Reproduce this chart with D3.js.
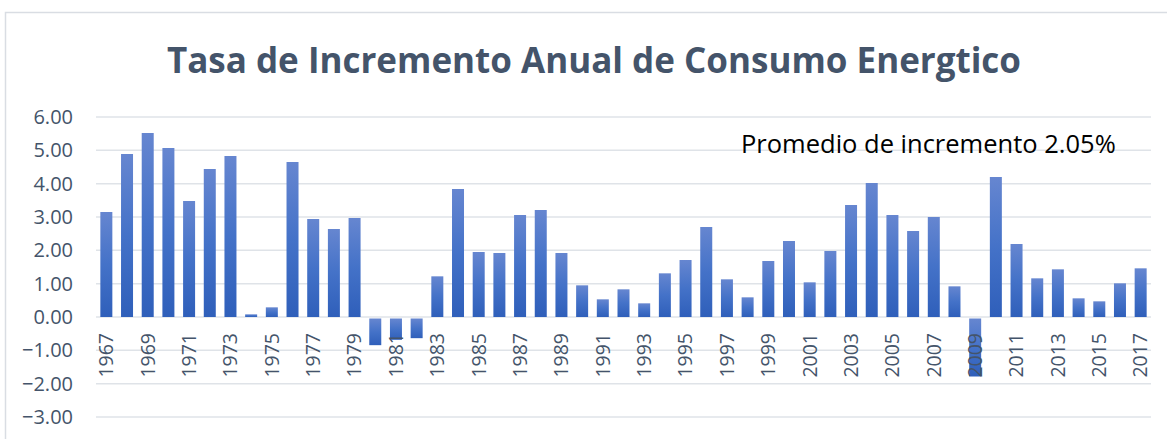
<!DOCTYPE html>
<html>
<head>
<meta charset="utf-8">
<script src="https://cdn.jsdelivr.net/npm/d3@7"></script>
<style>
  body { margin: 0; background: #fff; }
  svg { display: block; }
  text { font-family: "Open Sans", "Noto Sans", sans-serif; }
</style>
</head>
<body>
<svg id="chart" width="1167" height="439"></svg>
<script>
// data
var years = d3.range(1967, 2018);
var rates = [
  3.15, 4.89, 5.52, 5.07, 3.48, 4.44, 4.83, 0.08, 0.29, 4.65,
  2.94, 2.64, 2.97, -0.80, -0.64, -0.59, 1.22, 3.84, 1.95, 1.92,
  3.06, 3.21, 1.92, 0.95, 0.53, 0.83, 0.41, 1.31, 1.71, 2.70,
  1.13, 0.59, 1.68, 2.28, 1.04, 1.98, 3.36, 4.02, 3.06, 2.58,
  3.00, 0.92, -1.74, 4.20, 2.19, 1.16, 1.43, 0.56, 0.47, 1.01,
  1.46
];
var yTicks = [6, 5, 4, 3, 2, 1, 0, -1, -2, -3];
var title = 'Tasa de Incremento Anual de Consumo Energtico';
var note = 'Promedio de incremento 2.05%';

var svg = d3.select('#chart');
var ink = '#44546a';

// frame
svg.append('rect')
  .attr('x', 5.5).attr('y', 12.5)
  .attr('width', 1300).attr('height', 600)
  .attr('fill', 'none')
  .attr('stroke', '#d9dde3')
  .attr('stroke-width', 1.5);

var x = d3.scaleBand()
  .domain(years)
  .range([96, 1151])
  .paddingInner(0.42)
  .paddingOuter(0.21);

var y = d3.scaleLinear()
  .domain([-3, 6])
  .range([417, 117]);

var grad = svg.append('defs').append('linearGradient')
  .attr('id', 'barGrad')
  .attr('x1', 0).attr('y1', 0).attr('x2', 0).attr('y2', 1);
grad.append('stop').attr('offset', '0%').attr('stop-color', '#6686d0');
grad.append('stop').attr('offset', '50%').attr('stop-color', '#4472c8');
grad.append('stop').attr('offset', '100%').attr('stop-color', '#2f5fba');

// gridlines
svg.append('g')
  .selectAll('line')
  .data(yTicks)
  .enter().append('line')
  .attr('x1', 96).attr('x2', 1151)
  .attr('y1', function(d) { return y(d); })
  .attr('y2', function(d) { return y(d); })
  .attr('stroke', '#dfe3e8')
  .attr('stroke-width', 1.5);

// y labels
svg.append('g')
  .selectAll('text')
  .data(yTicks)
  .enter().append('text')
  .attr('x', 73)
  .attr('y', function(d) { return y(d); })
  .attr('dy', '0.35em')
  .attr('text-anchor', 'end')
  .attr('fill', ink)
  .style('font-size', '20px')
  .text(function(d) { return d3.format('.2f')(d); });

// bars
svg.append('g')
  .selectAll('rect')
  .data(rates)
  .enter().append('rect')
  .attr('x', function(d, i) { return x(years[i]); })
  .attr('width', x.bandwidth())
  .attr('y', function(d) { return d >= 0 ? y(d) : y(0) + 1.5; })
  .attr('height', function(d) { return Math.abs(y(d) - y(0)); })
  .attr('fill', 'url(#barGrad)');

// x labels, every other year, drawn over the bars
svg.append('g')
  .selectAll('text')
  .data(years.filter(function(d) { return (d - 1967) % 2 == 0; }))
  .enter().append('text')
  .attr('transform', function(d) {
    return 'translate(' + (x(d) + x.bandwidth() / 2) + ',333) rotate(-90)';
  })
  .attr('dy', '0.35em')
  .attr('text-anchor', 'end')
  .attr('fill', ink)
  .style('font-size', '19.5px')
  .text(function(d) { return d; });

svg.append('text')
  .attr('x', 594).attr('y', 73)
  .attr('text-anchor', 'middle')
  .attr('fill', ink)
  .style('font-size', '35px')
  .style('font-weight', 'bold')
  .text(title);

svg.append('text')
  .attr('x', 741).attr('y', 153)
  .attr('fill', '#000')
  .style('font-size', '25.5px')
  .text(note);
</script>
</body>
</html>
